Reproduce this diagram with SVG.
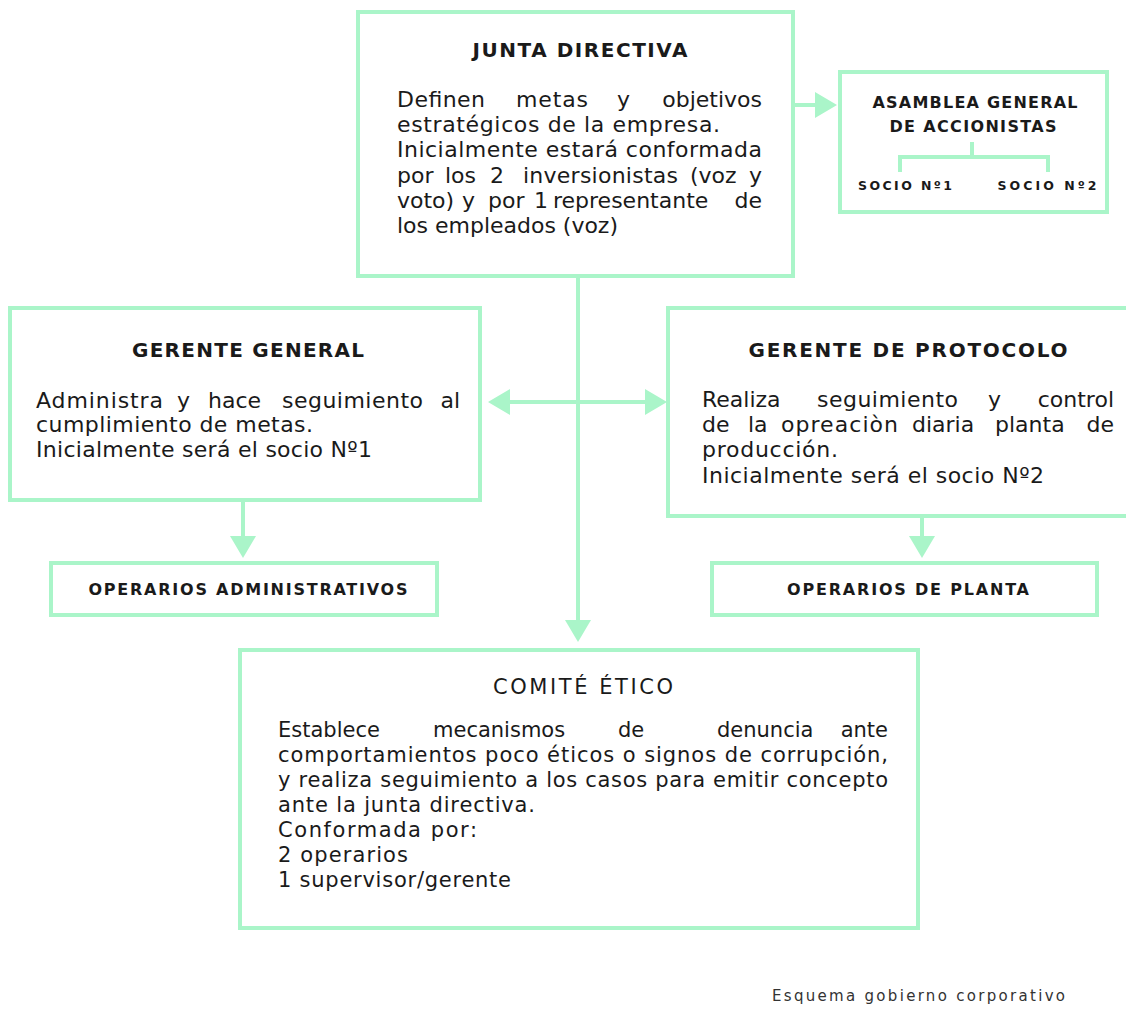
<svg xmlns="http://www.w3.org/2000/svg" width="1126" height="1009" viewBox="0 0 1126 1009">
  <style>
    .box { fill: #ffffff; stroke: #aaf5c9; stroke-width: 4; }
    .conn { fill: none; stroke: #aaf5c9; stroke-width: 4; }
    .t { font-family: "DejaVu Sans", "Liberation Sans", sans-serif; fill: #1a1a1a; }
    .h { font-size: 20px; font-weight: bold; text-anchor: middle; }
    .hs { font-size: 16px; font-weight: bold; text-anchor: middle; }
    .hx { font-size: 12.5px; font-weight: bold; text-anchor: middle; }
    .b { font-size: 22px; }
    .bc { font-size: 21px; }
    .foot { font-family: "DejaVu Sans", "Liberation Sans", sans-serif; font-size: 15px; fill: #333333; }
  </style>
  <defs>
    <marker id="head" viewBox="0 0 22 26" markerUnits="userSpaceOnUse" markerWidth="22" markerHeight="26" refX="14" refY="13" orient="auto-start-reverse">
      <path d="M0,0 L22,13 L0,26 Z" fill="#aaf5c9"/>
    </marker>
  </defs>

  <rect width="1126" height="1009" fill="#ffffff"/>

  <!-- connectors -->
  <g id="connectors">
    <path class="conn" d="M793,105 H829" marker-end="url(#head)"/>
    <path class="conn" d="M578,276 V634" marker-end="url(#head)"/>
    <path class="conn" d="M496,402 H659" marker-start="url(#head)" marker-end="url(#head)"/>
    <path class="conn" d="M243,500 V550" marker-end="url(#head)"/>
    <path class="conn" d="M922,516 V550" marker-end="url(#head)"/>
  </g>

  <!-- board of directors -->
  <g id="junta-directiva">
    <rect class="box" x="358" y="12" width="435" height="264"/>
    <text class="t h" x="580" y="57" textLength="215">JUNTA DIRECTIVA</text>
    <g class="t b">
      <text x="397" y="107" textLength="88">Definen</text>
      <text x="516" y="107" textLength="72">metas</text>
      <text x="617" y="107">y</text>
      <text x="762" y="107" text-anchor="end">objetivos</text>
      <text x="397" y="132" textLength="323">estratégicos de la empresa.</text>
      <text x="397" y="157" textLength="365">Inicialmente estará conformada</text>
      <text x="397" y="182.5">por</text>
      <text x="445" y="182.5">los</text>
      <text x="490" y="182.5">2</text>
      <text x="523" y="182.5" textLength="155">inversionistas</text>
      <text x="690" y="182.5">(voz</text>
      <text x="762" y="182.5" text-anchor="end">y</text>
      <text x="397" y="208">voto)</text>
      <text x="462" y="208">y</text>
      <text x="488" y="208">por</text>
      <text x="534" y="208">1</text>
      <text x="553" y="208">representante</text>
      <text x="762" y="208" text-anchor="end">de</text>
      <text x="397" y="233" textLength="221">los empleados (voz)</text>
    </g>
  </g>

  <!-- shareholders' assembly -->
  <g id="asamblea">
    <rect class="box" x="840" y="72" width="267" height="140"/>
    <text class="t hs" x="975" y="108" textLength="205">ASAMBLEA GENERAL</text>
    <text class="t hs" x="973" y="132" textLength="167">DE ACCIONISTAS</text>
    <path class="conn" d="M972,142 V157 M900,172 V157 H1048 V172" stroke-width="3"/>
    <text class="t hx" x="905" y="190" textLength="94">SOCIO Nº1</text>
    <text class="t hx" x="1047" y="190" textLength="99">SOCIO Nº2</text>
  </g>

  <!-- general manager -->
  <g id="gerente-general">
    <rect class="box" x="10" y="308" width="470" height="192"/>
    <text class="t h" x="248" y="357" textLength="232">GERENTE GENERAL</text>
    <g class="t b">
      <text x="36" y="408" textLength="127">Administra</text>
      <text x="177" y="408">y</text>
      <text x="208" y="408">hace</text>
      <text x="282" y="408" textLength="141">seguimiento</text>
      <text x="460" y="408" text-anchor="end">al</text>
      <text x="36" y="432" textLength="277">cumplimiento de metas.</text>
      <text x="36" y="457" textLength="336">Inicialmente será el socio Nº1</text>
    </g>
  </g>

  <!-- protocol manager -->
  <g id="gerente-protocolo">
    <rect class="box" x="668" y="308" width="470" height="208"/>
    <text class="t h" x="908" y="357" textLength="319">GERENTE DE PROTOCOLO</text>
    <g class="t b">
      <text x="702" y="407">Realiza</text>
      <text x="817" y="407" textLength="141">seguimiento</text>
      <text x="988" y="407">y</text>
      <text x="1114" y="407" text-anchor="end">control</text>
      <text x="702" y="432">de</text>
      <text x="748" y="432">la</text>
      <text x="781" y="432" textLength="117">opreaciòn</text>
      <text x="912" y="432">diaria</text>
      <text x="995" y="432">planta</text>
      <text x="1114" y="432" text-anchor="end">de</text>
      <text x="702" y="457" textLength="136">producción.</text>
      <text x="702" y="483" textLength="342">Inicialmente será el socio Nº2</text>
    </g>
  </g>

  <!-- administrative staff -->
  <g id="operarios-administrativos">
    <rect class="box" x="51" y="563" width="386" height="52"/>
    <text class="t hs" x="248" y="595" textLength="319">OPERARIOS ADMINISTRATIVOS</text>
  </g>

  <!-- plant staff -->
  <g id="operarios-planta">
    <rect class="box" x="712" y="563" width="385" height="52"/>
    <text class="t hs" x="908" y="595" textLength="242">OPERARIOS DE PLANTA</text>
  </g>

  <!-- ethics committee -->
  <g id="comite-etico">
    <rect class="box" x="240" y="650" width="678" height="278"/>
    <text class="t" x="583" y="694" font-size="21" text-anchor="middle" textLength="180">COMITÉ ÉTICO</text>
    <g class="t bc">
      <text x="278" y="737">Establece</text>
      <text x="433" y="737">mecanismos</text>
      <text x="618" y="737">de</text>
      <text x="717" y="737">denuncia</text>
      <text x="888" y="737" text-anchor="end">ante</text>
      <text x="278" y="762" textLength="610">comportamientos poco éticos o signos de corrupción,</text>
      <text x="278" y="787" textLength="610">y realiza seguimiento a los casos para emitir concepto</text>
      <text x="278" y="812" textLength="257">ante la junta directiva.</text>
      <text x="278" y="837" textLength="199">Conformada por:</text>
      <text x="278" y="862" textLength="130">2 operarios</text>
      <text x="278" y="887" textLength="233">1 supervisor/gerente</text>
    </g>
  </g>

  <text class="foot" x="772" y="1001" textLength="293">Esquema gobierno corporativo</text>
</svg>
